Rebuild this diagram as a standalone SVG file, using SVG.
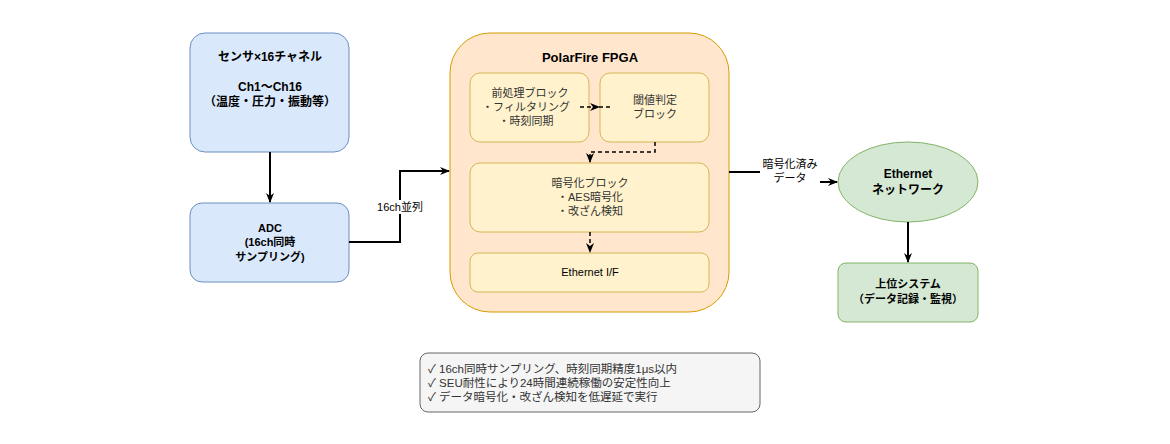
<svg xmlns="http://www.w3.org/2000/svg" width="1170" height="444" viewBox="0 0 1170 444">
<defs>
<marker id="ah" markerWidth="10" markerHeight="10" refX="9" refY="5" orient="auto" markerUnits="userSpaceOnUse">
<path d="M0,1 L10,5 L0,9 L3,5 Z" fill="#000"/>
</marker>
<style>
.t{font-family:"Liberation Sans","Noto Sans CJK JP",sans-serif;text-anchor:middle;}
.l{font-family:"Liberation Sans","Noto Sans CJK JP",sans-serif;text-anchor:start;}
.b{font-weight:bold;fill:#000;}
.n{fill:#333;}
.blue{fill:#dae8fc;stroke:#6c8ebf;}
.yel{fill:#fff2cc;stroke:#d6b656;}
.grn{fill:#d5e8d4;stroke:#82b366;}
.e{fill:none;stroke:#000;stroke-width:2;}
.d{fill:none;stroke:#000;stroke-width:1.5;stroke-dasharray:4 3;}
</style>
</defs>
<rect width="1170" height="444" fill="#fff"/>
<g id="sensor"><rect class="blue" x="190" y="33" width="159" height="119" rx="15"/>
<text class="t b" font-size="12"><tspan x="270" y="61">センサ×16チャネル</tspan><tspan x="270" y="91">Ch1〜Ch16</tspan><tspan x="270" y="106">（温度・圧力・振動等）</tspan></text></g>
<g id="adc"><rect class="blue" x="190" y="203" width="159" height="79" rx="12"/>
<text class="t b" font-size="11"><tspan x="270" y="232">ADC</tspan><tspan x="270" y="246">(16ch同時</tspan><tspan x="270" y="261">サンプリング)</tspan></text></g>
<g id="fpga"><rect x="450" y="33" width="279" height="279" rx="40" fill="#ffe6cc" stroke="#d79b00"/>
<text class="t b" font-size="13" x="590" y="62">PolarFire FPGA</text></g>
<g id="pre"><rect class="yel" x="470" y="73" width="119" height="69" rx="10"/>
<text class="t n" font-size="11"><tspan x="530" y="97">前処理ブロック</tspan><tspan x="526" y="111">・フィルタリング</tspan><tspan x="526" y="125">・時刻同期</tspan></text></g>
<g id="thr"><rect class="yel" x="600" y="73" width="109" height="69" rx="10"/>
<text class="t n" font-size="11"><tspan x="655" y="104">閾値判定</tspan><tspan x="655" y="118">ブロック</tspan></text></g>
<g id="enc"><rect class="yel" x="470" y="163" width="239" height="69" rx="10"/>
<text class="t n" font-size="11"><tspan x="590" y="187">暗号化ブロック</tspan><tspan x="590" y="201">・AES暗号化</tspan><tspan x="590" y="215">・改ざん検知</tspan></text></g>
<g id="eif"><rect class="yel" x="470" y="253" width="239" height="39" rx="8"/>
<text class="t" font-size="11" fill="#000" x="590" y="276">Ethernet I/F</text></g>
<g id="net"><ellipse class="grn" cx="908" cy="182" rx="70" ry="40"/>
<text class="t b" font-size="12"><tspan x="908" y="178">Ethernet</tspan><tspan x="908" y="194">ネットワーク</tspan></text></g>
<g id="sys"><rect class="grn" x="838" y="263" width="140" height="59" rx="8"/>
<text class="t b" font-size="11"><tspan x="908" y="288">上位システム</tspan><tspan x="908" y="303">（データ記録・監視）</tspan></text></g>
<g id="note"><rect x="420" y="353" width="340" height="59" rx="8" fill="#f5f5f5" stroke="#666"/>
<text class="l" font-size="11.5" fill="#333"><tspan x="428" y="373">✓ 16ch同時サンプリング、時刻同期精度1μs以内</tspan><tspan x="428" y="387">✓ SEU耐性により24時間連続稼働の安定性向上</tspan><tspan x="428" y="401">✓ データ暗号化・改ざん検知を低遅延で実行</tspan></text></g>
<g id="connectors">
<path class="e" d="M270,152 V202" marker-end="url(#ah)"/>
<path class="e" d="M349,242 H400 V171 H449" marker-end="url(#ah)"/>
<rect x="374" y="200" width="52" height="14" fill="#fff"/>
<text class="t" font-size="11" fill="#000" x="400" y="211">16ch並列</text>
<path class="e" d="M729,172 H790 V182 H837" marker-end="url(#ah)"/>
<rect x="760" y="158" width="60" height="28" fill="#fff"/>
<text class="t" font-size="11" fill="#000"><tspan x="790" y="168">暗号化済み</tspan><tspan x="790" y="182">データ</tspan></text>
<path class="e" d="M908,222 V262" marker-end="url(#ah)"/>
<path class="d" d="M580,107 H599" marker-end="url(#ah)"/>
<path class="d" d="M599,107 H610"/>
<path class="d" d="M655,142 V152 H590 V162" marker-end="url(#ah)"/>
<path class="d" d="M590,232 V252" marker-end="url(#ah)"/>
</g>
</svg>
